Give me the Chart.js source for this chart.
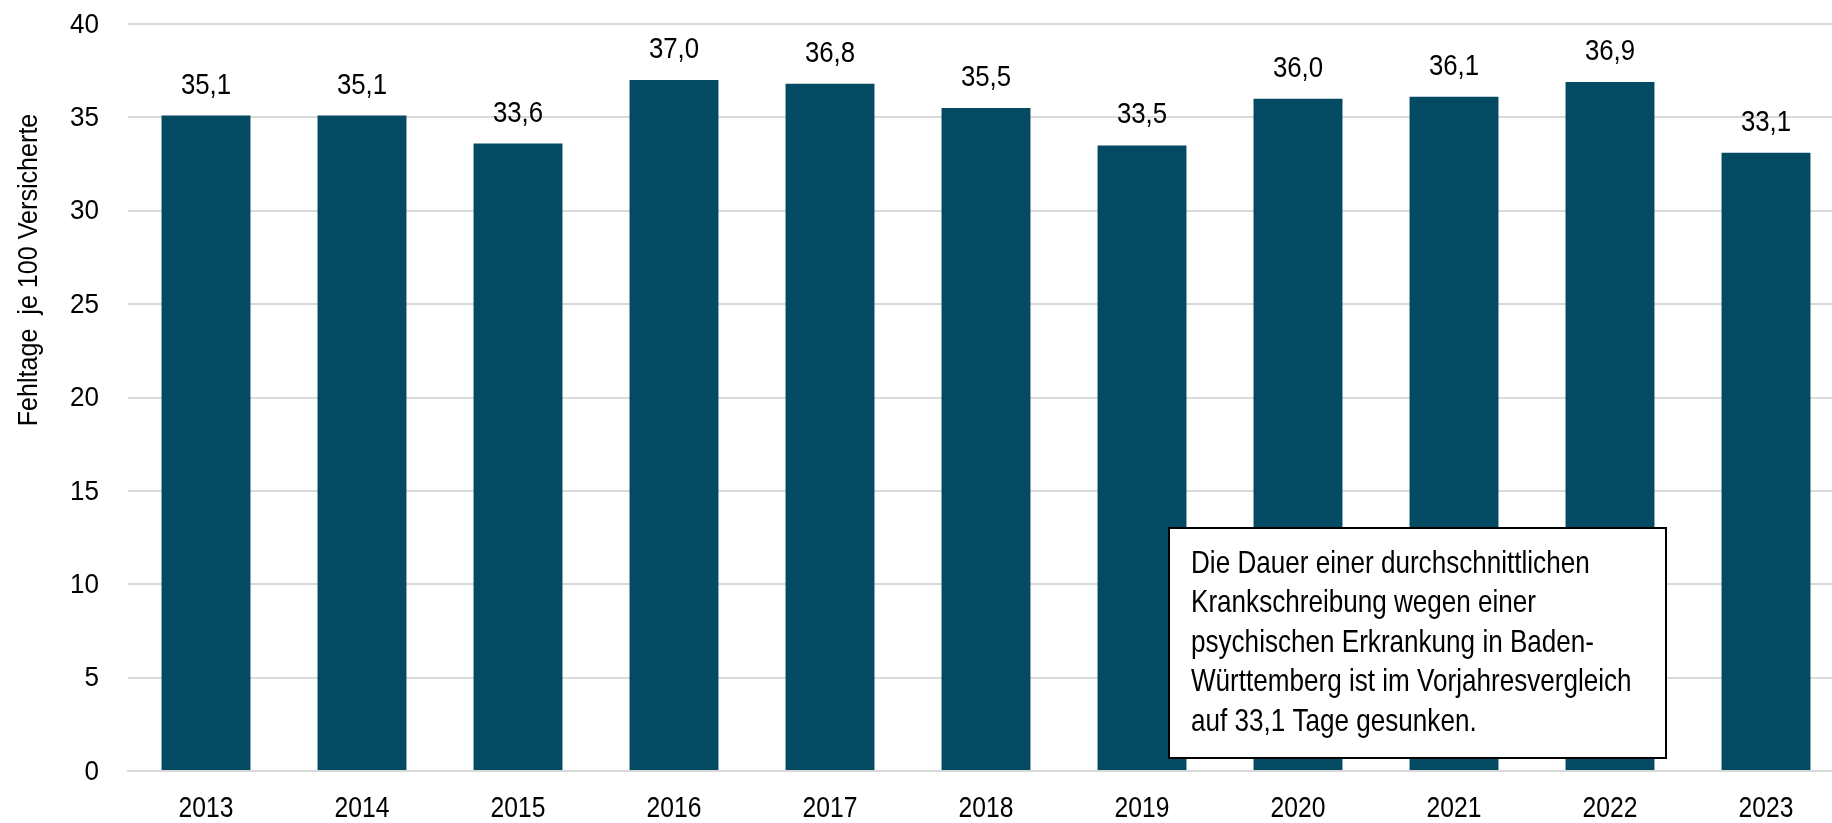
<!DOCTYPE html>
<html>
<head>
<meta charset="utf-8">
<script src="https://cdn.jsdelivr.net/npm/chart.js@4.4.0/dist/chart.umd.min.js"></script>
<style>
  html, body { margin: 0; padding: 0; background: #fff; overflow: hidden; }
  /* the plot runs a little past the right edge in the original, so the canvas is wider and cut off */
  #wrap { width: 1832px; height: 823px; overflow: hidden; }
</style>
</head>
<body>
<div id="wrap"><canvas id="chart" width="1844" height="823"></canvas></div>
<script>
// data
const years = ["2013", "2014", "2015", "2016", "2017", "2018", "2019", "2020", "2021", "2022", "2023"]
const fehltage = [35.1, 35.1, 33.6, 37.0, 36.8, 35.5, 33.5, 36.0, 36.1, 36.9, 33.1]
const yTicks = [0, 5, 10, 15, 20, 25, 30, 35, 40]
const axisTitle = "Fehltage  je 100 Versicherte"
const noteLines = [
    "Die Dauer einer durchschnittlichen",
    "Krankschreibung wegen einer",
    "psychischen Erkrankung in Baden-",
    "Württemberg ist im Vorjahresvergleich",
    "auf 33,1 Tage gesunken."
]

const FONT = "'Liberation Sans', Arial, sans-serif"
const BAR_COLOR = "#034a62"

// the original uses a condensed face, so squeeze text horizontally
function squeezed(ctx, txt, x, y, size, sx, align, baseline, angle) {
    ctx.save()
    ctx.translate(x, y)
    if (angle) ctx.rotate(angle)
    ctx.scale(sx, 1)
    ctx.font = size + "px " + FONT
    ctx.fillStyle = "#000"
    ctx.textAlign = align
    ctx.textBaseline = baseline
    ctx.fillText(txt, 0, 0)
    ctx.restore()
}

// tick labels, value labels and axis title
const texts = {
    id: "texts",
    afterDatasetsDraw(chart) {
        const ctx = chart.ctx
        const xs = chart.scales.x
        const ys = chart.scales.y
        yTicks.forEach((v) => {
            squeezed(ctx, String(v), 99, ys.getPixelForValue(v) + 1, 28, 0.93, "right", "middle")
        })
        years.forEach((yr, i) => {
            squeezed(ctx, yr, xs.getPixelForValue(i), 809, 29, 0.85, "center", "middle")
        })
        const meta = chart.getDatasetMeta(0)
        meta.data.forEach((bar, i) => {
            const txt = fehltage[i].toFixed(1).replace(".", ",")
            squeezed(ctx, txt, bar.x, bar.y - 22, 29, 0.89, "center", "alphabetic")
        })
        squeezed(ctx, axisTitle, 30, 270, 27, 0.93, "center", "middle", -Math.PI / 2)
    }
}

// text box in the lower right
const noteBox = {
    id: "noteBox",
    afterDraw(chart) {
        const ctx = chart.ctx
        const x = 1169, y = 528, w = 497, h = 230
        ctx.save()
        ctx.fillStyle = "#fff"
        ctx.fillRect(x, y, w, h)
        ctx.strokeStyle = "#000"
        ctx.lineWidth = 2
        ctx.strokeRect(x, y, w, h)
        ctx.restore()
        noteLines.forEach((line, i) => {
            squeezed(ctx, line, x + 22, 573 + i * 39.4, 32, 0.815, "left", "alphabetic")
        })
    }
}

new Chart(document.getElementById("chart"), {
    type: "bar",
    data: {
        labels: years,
        datasets: [
            {
                data: fehltage,
                backgroundColor: BAR_COLOR,
                borderWidth: 0,
                categoryPercentage: 1,
                barPercentage: 0.57,
            },
        ],
    },
    options: {
        responsive: false,
        animation: false,
        layout: { padding: { top: 24, right: 0, left: 0, bottom: 0 } },
        plugins: {
            legend: { display: false },
            tooltip: { enabled: false },
        },
        scales: {
            x: {
                grid: { display: false },
                border: { color: "#d9d9d9", width: 2 },
                ticks: { display: false },
                afterFit(scale) { scale.height = 52 },
            },
            y: {
                min: 0,
                max: 40,
                afterBuildTicks(scale) { scale.ticks = yTicks.map((v) => ({ value: v })) },
                grid: { color: "#d9d9d9", lineWidth: 2, drawTicks: false },
                border: { display: false },
                ticks: { display: false },
                afterFit(scale) { scale.width = 128 },
            },
        },
    },
    plugins: [texts, noteBox],
})
</script>
</body>
</html>
